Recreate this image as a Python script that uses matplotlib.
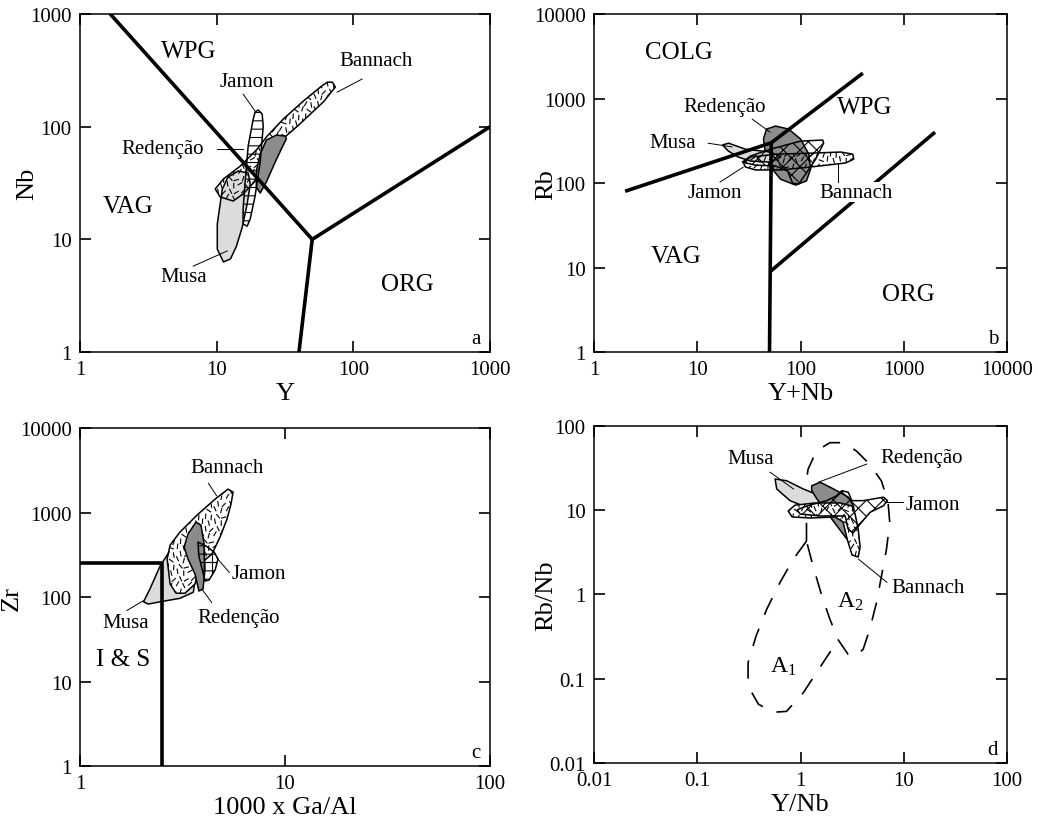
"""Granite tectonic discrimination diagrams (Pearce 1984, Whalen 1987, Eby 1992)."""
import matplotlib
matplotlib.use("Agg")
import matplotlib.pyplot as plt
import matplotlib.hatch as mhatch
import numpy as np
from matplotlib.path import Path
from matplotlib.ticker import FuncFormatter, LogLocator, NullLocator

plt.rcParams["font.family"] = "Liberation Serif"
plt.rcParams["hatch.linewidth"] = 0.8

# ---- (a) Nb vs Y -------------------------------------------------------
A_MUSA_Y = [11.2, 10.1, 10.1, 10.6, 11.0, 12.1, 14.4, 17.0, 17.6, 16.7, 15.4, 13.9, 12.6]
A_MUSA_NB = [6.3, 8.2, 13.7, 20.6, 28.0, 35.8, 40.5, 38.8, 31.0, 20.6, 12.9, 8.6, 6.7]
A_BANNACH_Y = [70.2, 73.8, 60.3, 38.9, 29.2, 23.4, 19.8, 15.6, 13.2, 10.6, 9.75, 11.2,
               14.9, 19.8, 23.4, 30.7, 43.0, 57.3, 64.5]
A_BANNACH_NB = [249, 225, 166, 101, 74.7, 51.7, 34.4, 25.3, 21.9, 23.8, 28.0, 34.4,
                44.8, 63.4, 82.6, 117, 169, 225, 249]
A_REDENCAO_Y = [31.8, 27.3, 23.1, 20.8, 19.5, 19.5, 20.8, 23.1, 26.4, 29.7, 32.3]
A_REDENCAO_NB = [82.6, 84.3, 76.2, 57.3, 40.5, 29.2, 25.8, 32.3, 46.7, 63.4, 77.8]
A_JAMON_Y = [20.1, 21.5, 21.9, 20.8, 19.1, 17.6, 16.7, 15.6, 15.6, 16.2, 17.0, 18.5, 19.1]
A_JAMON_NB = [141, 130, 101, 48.7, 24.3, 15.2, 13.1, 13.7, 18.6, 34.4, 67.4, 117, 135]
A_BOUND1_Y, A_BOUND1_NB = [1, 50, 1000], [2000, 10, 100]
A_BOUND2_Y, A_BOUND2_NB = [50, 40], [10, 1]

# ---- (b) Rb vs Y+Nb ----------------------------------------------------
B_MUSA_X = [17.5, 20, 29.2, 51.2, 64, 51.2, 32.7, 25, 20]
B_MUSA_RB = [282, 297, 252, 233, 203, 177, 182, 203, 239]
B_REDENCAO_X = [43.7, 46.8, 57.2, 76.4, 100, 120, 125, 114, 89.4, 64, 51.2, 45.7]
B_REDENCAO_RB = [332, 436, 473, 436, 332, 220, 147, 106, 94.6, 111, 155, 220]
B_JAMON_X = [27.3, 32.7, 51.2, 100, 164, 167, 140, 112, 95.7, 83.6, 74.8, 57.2, 36.6]
B_JAMON_RB = [177, 209, 252, 314, 323, 297, 192, 128, 97.3, 100, 139, 159, 163]
B_BANNACH_X = [28, 32.7, 57.2, 125, 244, 320, 327, 273, 125, 64, 36.6, 29.2]
B_BANNACH_RB = [173, 203, 220, 226, 233, 220, 192, 173, 155, 143, 143, 155]
B_BOUND1_X, B_BOUND1_RB = [2, 52, 400], [80, 300, 2000]
B_BOUND2_X, B_BOUND2_RB = [50, 52], [1, 300]
B_BOUND3_X, B_BOUND3_RB = [51, 2000], [9, 400]

# ---- (c) Zr vs 1000 Ga/Al ---------------------------------------------
C_MUSA_X = [2.04, 2.19, 2.46, 2.70, 2.85, 3.07, 3.44, 3.64, 3.57, 3.07, 2.46, 2.15]
C_MUSA_ZR = [87.9, 124, 234, 332, 344, 308, 234, 163, 114, 96.6, 87.9, 82.6]
C_BANNACH_X = [5.27, 5.58, 5.45, 5.21, 4.82, 4.40, 3.85, 3.64, 3.25, 2.94, 2.75, 2.66,
               2.75, 3.07, 3.72, 4.56]
C_BANNACH_ZR = [1897, 1750, 1262, 837, 513, 323, 246, 143, 111, 111, 143, 282,
                412, 587, 933, 1445]
C_REDENCAO_X = [3.68, 3.89, 4.03, 4.07, 3.98, 3.80, 3.64, 3.36, 3.22, 3.36]
C_REDENCAO_ZR = [773, 711, 424, 214, 124, 118, 187, 282, 391, 557]
C_JAMON_X = [3.76, 4.12, 4.51, 4.71, 4.56, 4.26, 4.07, 3.94, 3.80]
C_JAMON_ZR = [448, 402, 341, 282, 209, 159, 155, 214, 305]
C_BOUND_X, C_BOUND_ZR = [1, 2.5, 2.5], [250, 250, 1]

# ---- (d) Rb/Nb vs Y/Nb ------------------------------------------------
D_MUSA_X = [0.566, 0.734, 1.06, 1.66, 2.80, 3.13, 2.24, 1.24, 0.79, 0.587]
D_MUSA_R = [23.5, 22.4, 17.9, 14.3, 12.4, 10.8, 9.46, 10.4, 13.0, 17.9]
D_REDENCAO_X = [1.28, 1.55, 2.08, 2.90, 3.25, 3.37, 3.13, 2.80, 2.24, 1.79, 1.44, 1.28]
D_REDENCAO_R = [19.5, 21.5, 17.9, 14.3, 11.3, 7.2, 4.56, 4.56, 6.56, 9.46, 13.6, 17.1]
D_JAMON_X = [2.51, 2.90, 3.13, 4.06, 6.34, 6.93, 6.34, 4.71, 3.77, 3.22, 2.88, 2.70,
             1.55, 0.99, 0.925, 1.16, 1.79, 2.24]
D_JAMON_R = [17.1, 16.3, 13.0, 13.0, 14.3, 13.0, 11.3, 9.46, 6.87, 5.37, 5.98, 8.55,
             8.55, 9.02, 10.1, 11.3, 13.0, 14.9]
D_BANNACH_X = [0.757, 0.885, 1.38, 2.41, 3.15, 3.37, 3.61, 3.77, 3.61, 3.15, 2.82, 2.58,
               2.16, 1.24, 0.828]
D_BANNACH_R = [9.8, 11.5, 12.2, 12.2, 11.2, 9.02, 5.98, 3.66, 2.79, 2.94, 4.56, 7.26,
               8.32, 8.09, 8.32]
D_A1_X = [1.14, 0.845, 0.63, 0.47, 0.37, 0.31, 0.31, 0.39, 0.54, 0.73, 1.06, 1.53, 2.31]
D_A1_R = [4.3, 2.6, 1.38, 0.67, 0.32, 0.155, 0.082, 0.050, 0.040, 0.041, 0.068, 0.135, 0.29]
D_A2_X = [1.14, 1.14, 1.10, 1.18, 1.42, 1.92, 2.58, 3.47, 4.68, 6.07, 7.03, 7.3, 6.78,
          6.07, 5.43, 4.68, 4.03, 3.35, 2.88, 2.31, 1.92, 1.59, 1.32, 1.14]
D_A2_R = [4.3, 7.8, 16.2, 30.6, 50.5, 63.4, 63.4, 50.5, 35, 22.2, 12.3, 7.1, 3.44,
          1.66, 0.80, 0.39, 0.223, 0.183, 0.195, 0.29, 0.51, 1.0, 2.18, 4.3]

MUSA_GREY = "#dcdcdc"
REDENCAO_GREY = "#8c8c8c"


# short randomly-turned dashes used as the Bannach fill; takes over the '*' hatch
SPECKLE = [(0.2, 0.3, 70), (0.7, 0.15, 115), (0.45, 0.7, 85), (0.9, 0.6, 55)]
TWIST = [0, 30, -25, 45, -40, 15, -10]


class Speckle(mhatch.HatchPatternBase):
    def __init__(self, hatch, density):
        self.n = 8 * hatch.count("*")
        self.num_vertices = self.n * self.n * len(SPECKLE) * 2

    def set_vertices_and_codes(self, vertices, codes):
        k = 0
        half = 0.022
        for i in range(self.n):
            for j in range(self.n):
                for m, (u, v, a) in enumerate(SPECKLE):
                    ang = np.deg2rad(a + TWIST[(i * 3 + j * 2 + m) % len(TWIST)])
                    cx, cy = (i + u) / self.n, (j + v) / self.n
                    dx, dy = half * np.cos(ang), half * np.sin(ang)
                    vertices[k] = cx - dx, cy - dy
                    vertices[k + 1] = cx + dx, cy + dy
                    codes[k] = Path.MOVETO
                    codes[k + 1] = Path.LINETO
                    k += 2


mhatch._hatch_types = [t for t in mhatch._hatch_types if t is not mhatch.Stars] + [Speckle]


def field(ax, x, y, face, hatch=None, z=3):
    ax.fill(x, y, facecolor=face, edgecolor="black", hatch=hatch,
            linewidth=1.1, zorder=z, joinstyle="round")


def label(ax, x, y, s, size=15):
    ax.text(x, y, s, transform=ax.transAxes, fontsize=size,
            ha="center", va="center", zorder=6)


def leader(ax, x0, y0, x1, y1):
    ax.plot([x0, x1], [y0, y1], transform=ax.transAxes, color="black",
            lw=0.7, zorder=6)


def setup(ax, xlim, ylim, xlabel, ylabel, letter, ylab_x):
    ax.set_xscale("log")
    ax.set_yscale("log")
    ax.set_xlim(*xlim)
    ax.set_ylim(*ylim)
    fmt = FuncFormatter(lambda v, p: f"{v:g}")
    for axis in (ax.xaxis, ax.yaxis):
        axis.set_major_locator(LogLocator(base=10, numticks=12))
        axis.set_minor_locator(NullLocator())
        axis.set_major_formatter(fmt)
    ax.tick_params(which="major", direction="in", length=8, width=1.2,
                   top=True, right=True, labelsize=15, pad=6)
    for sp in ax.spines.values():
        sp.set_linewidth(1.1)
    ax.set_xlabel(xlabel, fontsize=19, labelpad=2)
    ax.set_ylabel(ylabel, fontsize=19)
    ax.yaxis.set_label_coords(ylab_x, 0.5)
    ax.text(0.965, 0.04, letter, transform=ax.transAxes, fontsize=15,
            ha="center", va="center")


def bound(ax, x, y):
    ax.plot(x, y, color="black", lw=2.6, zorder=5, solid_capstyle="butt")


fig = plt.figure(figsize=(10.38, 8.28), dpi=100)
ax_a = fig.add_axes([0.0771, 0.5737, 0.395, 0.408])
ax_b = fig.add_axes([0.5723, 0.5737, 0.398, 0.408])
ax_c = fig.add_axes([0.0771, 0.0737, 0.395, 0.408])
ax_d = fig.add_axes([0.5723, 0.0773, 0.398, 0.407])

# (a)
setup(ax_a, (1, 1000), (1, 1000), "Y", "Nb", "a", -0.102)
field(ax_a, A_MUSA_Y, A_MUSA_NB, MUSA_GREY, z=2)
field(ax_a, A_BANNACH_Y, A_BANNACH_NB, "none", hatch="*", z=3)
field(ax_a, A_REDENCAO_Y, A_REDENCAO_NB, REDENCAO_GREY, z=3.5)
field(ax_a, A_JAMON_Y, A_JAMON_NB, "none", hatch="--", z=4)
bound(ax_a, A_BOUND1_Y, A_BOUND1_NB)
bound(ax_a, A_BOUND2_Y, A_BOUND2_NB)
label(ax_a, 0.266, 0.891, "WPG", 18)
label(ax_a, 0.117, 0.432, "VAG", 18)
label(ax_a, 0.798, 0.201, "ORG", 18)
label(ax_a, 0.407, 0.802, "Jamon")
label(ax_a, 0.722, 0.864, "Bannach")
label(ax_a, 0.202, 0.601, "Redenção")
label(ax_a, 0.254, 0.222, "Musa")
leader(ax_a, 0.398, 0.763, 0.427, 0.713)
leader(ax_a, 0.688, 0.808, 0.627, 0.769)
leader(ax_a, 0.334, 0.601, 0.398, 0.601)
leader(ax_a, 0.276, 0.254, 0.359, 0.299)

# (b)
setup(ax_b, (1, 10000), (1, 10000), "Y+Nb", "Rb", "b", -0.09)
field(ax_b, B_REDENCAO_X, B_REDENCAO_RB, REDENCAO_GREY, z=2)
field(ax_b, B_MUSA_X, B_MUSA_RB, MUSA_GREY, z=2.5)
field(ax_b, B_JAMON_X, B_JAMON_RB, "none", hatch="xx", z=3)
field(ax_b, B_BANNACH_X, B_BANNACH_RB, "none", hatch="*", z=3.5)
bound(ax_b, B_BOUND1_X, B_BOUND1_RB)
bound(ax_b, B_BOUND2_X, B_BOUND2_RB)
bound(ax_b, B_BOUND3_X, B_BOUND3_RB)
label(ax_b, 0.206, 0.888, "COLG", 18)
label(ax_b, 0.654, 0.725, "WPG", 18)
label(ax_b, 0.199, 0.284, "VAG", 18)
label(ax_b, 0.760, 0.172, "ORG", 18)
label(ax_b, 0.315, 0.728, "Redenção")
label(ax_b, 0.191, 0.621, "Musa")
label(ax_b, 0.293, 0.473, "Jamon")
ax_b.text(0.634, 0.473, "Bannach", transform=ax_b.transAxes, fontsize=15,
          ha="center", va="center", zorder=6,
          bbox=dict(facecolor="white", edgecolor="none", pad=0.5))
leader(ax_b, 0.383, 0.689, 0.426, 0.651)
leader(ax_b, 0.276, 0.618, 0.334, 0.607)
leader(ax_b, 0.305, 0.503, 0.361, 0.547)
leader(ax_b, 0.591, 0.503, 0.591, 0.556)

# (c)
setup(ax_c, (1, 100), (1, 10000), "1000 x Ga/Al", "Zr", "c", -0.141)
field(ax_c, C_MUSA_X, C_MUSA_ZR, MUSA_GREY, z=2)
field(ax_c, C_BANNACH_X, C_BANNACH_ZR, "white", hatch="*", z=3)
field(ax_c, C_REDENCAO_X, C_REDENCAO_ZR, REDENCAO_GREY, z=3.5)
field(ax_c, C_JAMON_X, C_JAMON_ZR, "none", hatch="++", z=4)
bound(ax_c, C_BOUND_X, C_BOUND_ZR)
label(ax_c, 0.106, 0.317, "I & S", 18)
label(ax_c, 0.358, 0.884, "Bannach")
label(ax_c, 0.435, 0.571, "Jamon")
label(ax_c, 0.386, 0.440, "Redenção")
label(ax_c, 0.111, 0.425, "Musa")
leader(ax_c, 0.313, 0.837, 0.333, 0.800)
leader(ax_c, 0.364, 0.573, 0.333, 0.617)
leader(ax_c, 0.321, 0.484, 0.297, 0.524)
leader(ax_c, 0.114, 0.460, 0.154, 0.489)

# (d)
setup(ax_d, (0.01, 100), (0.01, 100), "Y/Nb", "Rb/Nb", "d", -0.09)
ax_d.plot(D_A1_X, D_A1_R, color="black", lw=1.2, linestyle=(0, (11, 9)), zorder=1)
ax_d.plot(D_A2_X, D_A2_R, color="black", lw=1.2, linestyle=(0, (11, 9)), zorder=1)
field(ax_d, D_MUSA_X, D_MUSA_R, MUSA_GREY, z=2)
field(ax_d, D_REDENCAO_X, D_REDENCAO_R, REDENCAO_GREY, z=2.5)
field(ax_d, D_BANNACH_X, D_BANNACH_R, "white", hatch="*", z=3)
field(ax_d, D_JAMON_X, D_JAMON_R, "none", hatch="xx", z=3.5)
label(ax_d, 0.458, 0.289, r"$\mathregular{A_1}$", 17)
label(ax_d, 0.620, 0.482, r"$\mathregular{A_2}$", 17)
label(ax_d, 0.379, 0.904, "Musa")
label(ax_d, 0.792, 0.907, "Redenção")
label(ax_d, 0.820, 0.766, "Jamon")
label(ax_d, 0.808, 0.521, "Bannach")
leader(ax_d, 0.426, 0.863, 0.483, 0.813)
leader(ax_d, 0.660, 0.887, 0.543, 0.833)
leader(ax_d, 0.749, 0.774, 0.705, 0.774)
leader(ax_d, 0.709, 0.536, 0.640, 0.605)

fig.savefig("out.png", dpi=100)
